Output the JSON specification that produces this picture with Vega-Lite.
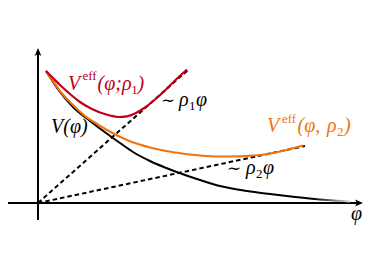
{
  "$schema": "https://vega.github.io/schema/vega-lite/v6.json",
  "width": 374,
  "height": 280,
  "autosize": {"type": "fit", "contains": "padding"},
  "padding": 0,
  "background": "white",
  "config": {"view": {"stroke": null}},
  "datasets": {
    "curves": [
      {"series": "V", "x": 0.4, "y": 6.6},
      {"series": "V", "x": 1.1, "y": 5.55},
      {"series": "V", "x": 1.75, "y": 4.8},
      {"series": "V", "x": 2.6, "y": 4.1},
      {"series": "V", "x": 3.4, "y": 3.5},
      {"series": "V", "x": 4.1, "y": 3.0},
      {"series": "V", "x": 4.75, "y": 2.55},
      {"series": "V", "x": 5.6, "y": 2.1},
      {"series": "V", "x": 6.35, "y": 1.775},
      {"series": "V", "x": 7.0, "y": 1.525},
      {"series": "V", "x": 8.1, "y": 1.15},
      {"series": "V", "x": 9.1, "y": 0.85},
      {"series": "V", "x": 10.45, "y": 0.6},
      {"series": "V", "x": 11.6, "y": 0.45},
      {"series": "V", "x": 12.75, "y": 0.315},
      {"series": "V", "x": 14.45, "y": 0.15},
      {"series": "V", "x": 15.6, "y": 0.075},
      {"series": "rho1", "x": 0.4, "y": 6.6},
      {"series": "rho1", "x": 0.75, "y": 6.25},
      {"series": "rho1", "x": 1.1, "y": 5.9},
      {"series": "rho1", "x": 1.6, "y": 5.45},
      {"series": "rho1", "x": 2.1, "y": 5.05},
      {"series": "rho1", "x": 2.6, "y": 4.75},
      {"series": "rho1", "x": 3.1, "y": 4.525},
      {"series": "rho1", "x": 3.6, "y": 4.375},
      {"series": "rho1", "x": 4.0, "y": 4.3},
      {"series": "rho1", "x": 4.45, "y": 4.335},
      {"series": "rho1", "x": 4.85, "y": 4.475},
      {"series": "rho1", "x": 5.35, "y": 4.775},
      {"series": "rho1", "x": 5.85, "y": 5.175},
      {"series": "rho1", "x": 6.35, "y": 5.625},
      {"series": "rho1", "x": 6.85, "y": 6.125},
      {"series": "rho1", "x": 7.45, "y": 6.675},
      {"series": "rho2", "x": 0.4, "y": 6.6},
      {"series": "rho2", "x": 0.75, "y": 6.1},
      {"series": "rho2", "x": 1.1, "y": 5.6},
      {"series": "rho2", "x": 1.75, "y": 4.9},
      {"series": "rho2", "x": 2.35, "y": 4.35},
      {"series": "rho2", "x": 2.95, "y": 3.95},
      {"series": "rho2", "x": 3.45, "y": 3.65},
      {"series": "rho2", "x": 4.45, "y": 3.15},
      {"series": "rho2", "x": 5.6, "y": 2.775},
      {"series": "rho2", "x": 6.85, "y": 2.525},
      {"series": "rho2", "x": 8.1, "y": 2.375},
      {"series": "rho2", "x": 9.1, "y": 2.325},
      {"series": "rho2", "x": 10.1, "y": 2.335},
      {"series": "rho2", "x": 11.1, "y": 2.4},
      {"series": "rho2", "x": 12.1, "y": 2.575},
      {"series": "rho2", "x": 13.25, "y": 2.875}
    ],
    "dashes": [
      {"line": "rho1", "x": 0, "y": 0},
      {"line": "rho1", "x": 7.5, "y": 6.65},
      {"line": "rho2", "x": 0, "y": 0},
      {"line": "rho2", "x": 13.35, "y": 2.85}
    ],
    "axes": [
      {"x": 0, "y": -0.85, "x2": 0, "y2": 7.55},
      {"x": -1.5, "y": 0, "x2": 16.05, "y2": 0}
    ],
    "arrows": [
      {"dir": "up", "x": 0, "y": 7.75},
      {"dir": "right", "x": 16.25, "y": 0}
    ],
    "labels": [
      {"kind": "main", "series": "rho1", "t": "V", "x": 1.5, "y": 5.675},
      {"kind": "small", "series": "rho1", "t": "eff", "x": 2.225, "y": 6.13},
      {"kind": "main", "series": "rho1", "t": "(φ;ρ", "x": 2.975, "y": 5.675},
      {"kind": "small", "series": "rho1", "t": "1", "x": 4.66, "y": 5.475},
      {"kind": "main", "series": "rho1", "t": ")", "x": 4.98, "y": 5.675},
      {"kind": "main", "series": "V", "t": "V(φ)", "x": 0.65, "y": 3.5},
      {"kind": "tilde", "series": "V", "t": "∼", "x": 6.15, "y": 4.85},
      {"kind": "main", "series": "V", "t": "ρ", "x": 7.05, "y": 4.85},
      {"kind": "small", "series": "V", "t": "1", "x": 7.55, "y": 4.65},
      {"kind": "main", "series": "V", "t": "φ", "x": 7.9, "y": 4.85},
      {"kind": "tilde", "series": "V", "t": "∼", "x": 9.45, "y": 1.45},
      {"kind": "main", "series": "V", "t": "ρ", "x": 10.4, "y": 1.45},
      {"kind": "small", "series": "V", "t": "2", "x": 10.9, "y": 1.25},
      {"kind": "main", "series": "V", "t": "φ", "x": 11.25, "y": 1.45},
      {"kind": "main", "series": "rho2", "t": "V", "x": 11.45, "y": 3.565},
      {"kind": "small", "series": "rho2", "t": "eff", "x": 12.2, "y": 4.015},
      {"kind": "main", "series": "rho2", "t": "(φ,", "x": 12.975, "y": 3.565},
      {"kind": "main", "series": "rho2", "t": "ρ", "x": 14.45, "y": 3.565},
      {"kind": "small", "series": "rho2", "t": "2", "x": 14.95, "y": 3.365},
      {"kind": "main", "series": "rho2", "t": ")", "x": 15.3, "y": 3.565},
      {"kind": "main", "series": "V", "t": "φ", "x": 15.65, "y": -0.85}
    ]
  },
  "encoding": {
    "x": {"field": "x", "type": "quantitative", "scale": {"domain": [-1.9, 16.8], "nice": false, "zero": false}, "axis": null},
    "y": {"field": "y", "type": "quantitative", "scale": {"domain": [-3.85, 10.15], "nice": false, "zero": false}, "axis": null}
  },
  "layer": [
    {
      "data": {"name": "axes"},
      "mark": {"type": "rule", "color": "black", "strokeWidth": 2},
      "encoding": {"x2": {"field": "x2"}, "y2": {"field": "y2"}}
    },
    {
      "data": {"name": "arrows"},
      "mark": {"type": "point", "filled": true, "color": "black", "opacity": 1, "size": 64, "strokeWidth": 0},
      "encoding": {
        "shape": {"field": "dir", "type": "nominal", "legend": null,
          "scale": {"domain": ["up", "right"], "range": ["M0,0L0.85,2L0,1.5L-0.85,2Z", "M0,0L-2,-0.85L-1.5,0L-2,0.85Z"]}}
      }
    },
    {
      "data": {"name": "dashes"},
      "mark": {"type": "line", "color": "black", "strokeWidth": 2, "strokeDash": [4.5, 3]},
      "encoding": {"detail": {"field": "line"}}
    },
    {
      "data": {"name": "curves"},
      "transform": [{"filter": "datum.series === 'V'"}],
      "mark": {"type": "line", "interpolate": "monotone", "strokeWidth": 2,
        "color": {"gradient": "linear", "x1": 0, "y1": 0, "x2": 1, "y2": 0,
          "stops": [{"offset": 0, "color": "black"}, {"offset": 0.88, "color": "black"}, {"offset": 1, "color": "#dddddd"}]}}
    },
    {
      "data": {"name": "curves"},
      "transform": [{"filter": "datum.series === 'rho2'"}],
      "mark": {"type": "line", "interpolate": "monotone", "strokeWidth": 2.2, "color": "#f07410"}
    },
    {
      "data": {"name": "curves"},
      "transform": [{"filter": "datum.series === 'rho1'"}],
      "mark": {"type": "line", "interpolate": "monotone", "strokeWidth": 2.2, "color": "#c00018"}
    },
    {
      "data": {"name": "labels"},
      "transform": [{"filter": "datum.kind === 'main'"}],
      "mark": {"type": "text", "align": "left", "baseline": "alphabetic", "font": "Liberation Serif", "fontStyle": "italic", "fontSize": 20},
      "encoding": {
        "text": {"field": "t"},
        "color": {"field": "series", "type": "nominal", "legend": null, "scale": {"domain": ["V", "rho1", "rho2"], "range": ["#000000", "#c00018", "#f07410"]}}
      }
    },
    {
      "data": {"name": "labels"},
      "transform": [{"filter": "datum.kind === 'tilde'"}],
      "mark": {"type": "text", "align": "left", "baseline": "alphabetic", "font": "DejaVu Serif", "fontSize": 17},
      "encoding": {
        "text": {"field": "t"},
        "color": {"field": "series", "type": "nominal", "legend": null, "scale": {"domain": ["V", "rho1", "rho2"], "range": ["#000000", "#c00018", "#f07410"]}}
      }
    },
    {
      "data": {"name": "labels"},
      "transform": [{"filter": "datum.kind === 'small'"}],
      "mark": {"type": "text", "align": "left", "baseline": "alphabetic", "font": "Liberation Serif", "fontSize": 13},
      "encoding": {
        "text": {"field": "t"},
        "color": {"field": "series", "type": "nominal", "legend": null, "scale": {"domain": ["V", "rho1", "rho2"], "range": ["#000000", "#c00018", "#f07410"]}}
      }
    }
  ]
}
